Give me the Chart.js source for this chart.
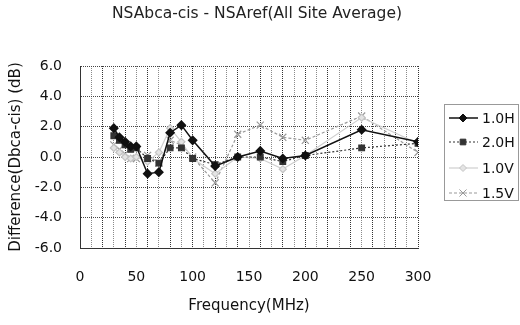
<!DOCTYPE html>
<html>
<head>
<meta charset="utf-8">
<script src="https://cdn.jsdelivr.net/npm/chart.js@4"></script>
<style>
  html, body { margin: 0; padding: 0; background: #fff; }
  #wrap { width: 520px; height: 325px; }
</style>
</head>
<body>
<div id="wrap"><canvas id="myChart" width="520" height="325"></canvas></div>
<script>
// frequencies (MHz)
const freqs = [30, 35, 40, 45, 50, 60, 70, 80, 90, 100, 120, 140, 160, 180, 200, 250, 300];
// difference values (dB)
const h10 = [1.9, 1.3, 1.0, 0.7, 0.7, -1.1, -1.0, 1.6, 2.1, 1.1, -0.6, 0.0, 0.4, -0.1, 0.1, 1.8, 1.0];
const h20 = [1.4, 1.1, 0.8, 0.5, 0.6, -0.1, -0.4, 0.6, 0.6, -0.1, -0.5, 0.0, 0.0, -0.3, 0.1, 0.6, 0.9];
const v10 = [0.6, 0.3, 0.0, -0.1, 0.0, -0.3, 0.3, 1.9, 1.0, -0.1, -1.1, 0.0, -0.1, -0.8, 0.1, 2.6, 0.9];
const v15 = [0.8, 0.5, 0.2, -0.1, -0.1, 0.1, -0.4, 1.1, 0.8, 0.0, -1.7, 1.5, 2.1, 1.3, 1.1, 2.7, 0.3];
const seriesNames = ['1.0H', '2.0H', '1.0V', '1.5V'];
const yTicks = [-6, -4, -2, 0, 2, 4, 6];
const xLabels = [0, 50, 100, 150, 200, 250, 300];
const chartTitle = 'NSAbca-cis - NSAref(All Site Average)';

const FONT = '"DejaVu Sans", sans-serif';

function pts(vals) {
  return freqs.map((f, i) => ({x: f, y: vals[i]}));
}

// title centred on the whole picture, and a legend with line + marker
const sideLegend = {
  id: 'sideLegend',
  afterDraw(chart) {
    const ctx = chart.ctx;
    ctx.save();
    ctx.fillStyle = '#222';
    ctx.font = '15.5px ' + FONT;
    ctx.textAlign = 'center';
    ctx.textBaseline = 'middle';
    ctx.fillText(chartTitle, 257, 14);
    ctx.textAlign = 'left';

    ctx.strokeStyle = '#333';
    ctx.lineWidth = 1;
    ctx.setLineDash([1, 1]);
    ctx.strokeRect(444.5, 104.5, 74, 96);
    ctx.setLineDash([]);
    const ys = [118, 142, 168, 193];
    chart.data.datasets.forEach((ds, i) => {
      const y = ys[i];
      ctx.strokeStyle = ds.borderColor;
      ctx.lineWidth = ds.borderWidth;
      ctx.setLineDash(ds.borderDash || []);
      ctx.beginPath();
      ctx.moveTo(449, y);
      ctx.lineTo(478, y);
      ctx.stroke();
      ctx.setLineDash([]);
      ctx.fillStyle = ds.pointBackgroundColor;
      ctx.strokeStyle = ds.pointBorderColor;
      ctx.lineWidth = 1;
      Chart.helpers.drawPoint(ctx, {pointStyle: ds.pointStyle, radius: ds.pointRadius, rotation: 0, borderWidth: 1}, 463, y);
      ctx.fillStyle = '#111';
      ctx.font = '14px ' + FONT;
      ctx.textBaseline = 'middle';
      ctx.fillText(seriesNames[i], 482, y + 1);
    });
    ctx.restore();
  }
};

new Chart(document.getElementById('myChart'), {
  type: 'scatter',
  data: {
    datasets: [
      {
        label: seriesNames[0], data: pts(h10), showLine: true,
        borderColor: '#111', borderWidth: 1.5,
        pointStyle: 'rectRot', pointRadius: 4,
        pointBackgroundColor: '#111', pointBorderColor: '#111'
      },
      {
        label: seriesNames[1], data: pts(h20), showLine: true,
        borderColor: '#333', borderWidth: 1.2, borderDash: [2, 2],
        pointStyle: 'rect', pointRadius: 4,
        pointBackgroundColor: '#333', pointBorderColor: '#333'
      },
      {
        label: seriesNames[2], data: pts(v10), showLine: true,
        borderColor: '#cfcfcf', borderWidth: 1.2,
        pointStyle: 'rectRot', pointRadius: 3.5,
        pointBackgroundColor: '#e4e4e4', pointBorderColor: '#c4c4c4'
      },
      {
        label: seriesNames[3], data: pts(v15), showLine: true,
        borderColor: '#9a9a9a', borderWidth: 1.2, borderDash: [3, 2],
        pointStyle: 'crossRot', pointRadius: 5,
        pointBackgroundColor: '#9a9a9a', pointBorderColor: '#9a9a9a'
      }
    ]
  },
  options: {
    responsive: false,
    animation: false,
    layout: { padding: { left: 0, right: 102, top: 66, bottom: 0 } },
    plugins: {
      legend: { display: false },
      tooltip: { enabled: false },
      title: { display: false }
    },
    scales: {
      x: {
        type: 'linear', min: 0, max: 300,
        afterBuildTicks(scale) {
          const t = [];
          for (let v = 0; v <= 300; v += 10) t.push({value: v});
          scale.ticks = t;
        },
        afterFit(scale) { scale.height = 77; },
        ticks: {
          autoSkip: false, maxRotation: 0, padding: 21,
          color: '#111', font: { family: FONT, size: 14 },
          callback: v => xLabels.includes(v) ? String(v) : ''
        },
        grid: {
          color: c => (c.tick && c.tick.value % 20 === 0) ? '#333' : '#8a8a8a',
          lineWidth: 1, drawTicks: false
        },
        border: { color: '#333', dash: [1, 1] },
        title: {
          display: true, text: 'Frequency(MHz)', color: '#111',
          font: { family: FONT, size: 15 },
          padding: { top: 0, bottom: 10 }
        }
      },
      y: {
        min: -6, max: 6,
        afterBuildTicks(scale) {
          scale.ticks = yTicks.map(v => ({value: v}));
        },
        afterFit(scale) { scale.width = 80; },
        ticks: {
          padding: 18, color: '#111', font: { family: FONT, size: 14 },
          callback: v => v.toFixed(1)
        },
        grid: { color: '#444', lineWidth: 1, drawTicks: false },
        border: { color: '#333', dash: [1, 1] },
        title: {
          display: true, text: 'Difference(Dbca-cis) (dB)', color: '#111',
          font: { family: FONT, size: 15 },
          padding: { top: 7, bottom: 0 }
        }
      }
    }
  },
  plugins: [sideLegend]
});
</script>
</body>
</html>
